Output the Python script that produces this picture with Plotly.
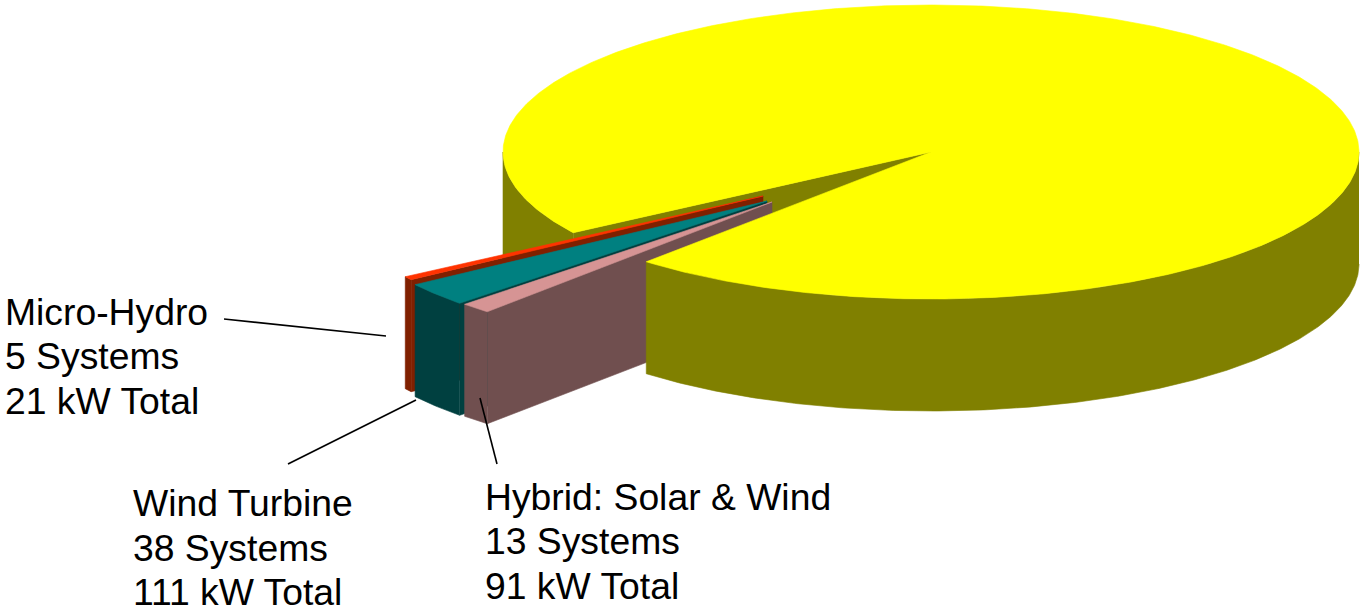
import numpy as np
import plotly.graph_objects as go

# Slice sizes, in degrees of the full pie
slices = ["Hybrid: Solar & Wind", "Wind Turbine", "Micro-Hydro", "Solar"]
slice_degrees = [4.2, 9.4, 1.4, 345.0]

# Label text
hydro_lines = ["Micro-Hydro", "5 Systems", "21 kW Total"]
wind_lines = ["Wind Turbine", "38 Systems", "111 kW Total"]
hybrid_lines = ["Hybrid: Solar & Wind", "13 Systems", "91 kW Total"]

# Styles and geometry of the projected pie
top_colors = ["#D69494", "#008080", "#FF3300", "#FFFF00"]
side_colors = ["#704F4F", "#004040", "#802000", "#808000"]
CX, CY, RX, RY, DEPTH = 931, 152, 428, 147, 112
START = 131.7
explode_dx = [-159, -164, -168, 0]
explode_dy = [50, 49, 44, 0]


def pt(t, ox, oy, drop=0):
    r = np.radians(t)
    return CX + ox + RX * np.cos(r), CY + oy + RY * np.sin(r) + drop


def arc(a, b, ox, oy, drop=0):
    n = max(2, int(abs(b - a) * 2))
    ts = np.linspace(a, b, n)
    return zip(*[pt(t, ox, oy, drop) for t in ts])


def poly(fig, xs, ys, color, name):
    fig.add_trace(go.Scatter(
        x=list(xs), y=list(ys), mode="lines", fill="toself", fillcolor=color,
        line=dict(color=color, width=0.6), name=name, hoverinfo="name",
        showlegend=False))


def side_radial(fig, t, ox, oy, color, name):
    ax, ay = CX + ox, CY + oy
    rx, ry = pt(t, ox, oy)
    poly(fig, [ax, rx, rx, ax, ax], [ay, ry, ry + DEPTH, ay + DEPTH, ay], color, name)


def side_outer(fig, a, b, ox, oy, color, name):
    x1, y1 = arc(a, b, ox, oy)
    x2, y2 = arc(b, a, ox, oy, DEPTH)
    poly(fig, list(x1) + list(x2), list(y1) + list(y2), color, name)


def top(fig, a, b, ox, oy, color, name):
    x1, y1 = arc(a, b, ox, oy)
    poly(fig, [CX + ox] + list(x1) + [CX + ox], [CY + oy] + list(y1) + [CY + oy], color, name)


fig = go.Figure()

edges = np.cumsum([START] + slice_degrees)
sol_start = edges[3]            # far edge of the notch in the solar slice
sol_end = edges[4]              # near edge of the notch
sol = 3

# Solar: back parts behind the exploded slices
side_outer(fig, sol_start, 180, 0, 0, side_colors[sol], slices[sol])
side_radial(fig, sol_start, 0, 0, side_colors[sol], slices[sol])

# Exploded slices, far to near
for i in [2, 1, 0]:
    a, b = edges[i], edges[i + 1]
    ox, oy = explode_dx[i], explode_dy[i]
    side_radial(fig, a, ox, oy, side_colors[i], slices[i])
    side_outer(fig, a, b, ox, oy, side_colors[i], slices[i])
    top(fig, a, b, ox, oy, top_colors[i], slices[i])

# Solar: front wall and top
side_outer(fig, 0, START, 0, 0, side_colors[sol], slices[sol])
top(fig, sol_start, sol_end, 0, 0, top_colors[sol], slices[sol])

# Leader lines
leaders = [((224, 319), (386, 336)), ((416, 400), (288, 464)), ((480, 398), (497, 464))]
shapes = [dict(type="line", xref="x", yref="y", x0=p[0], y0=p[1], x1=q[0], y1=q[1],
               line=dict(color="#000000", width=1.6)) for p, q in leaders]

# Labels
annotations = []
for lines, x, ys in [(hydro_lines, 5, [312, 356, 401]),
                     (wind_lines, 133, [503, 548, 592]),
                     (hybrid_lines, 485, [497, 541, 586])]:
    for text, y in zip(lines, ys):
        annotations.append(dict(
            x=x, y=y, xref="x", yref="y", text=text, showarrow=False,
            xanchor="left", yanchor="middle", xshift=-2,
            font=dict(family="Liberation Sans", size=37.3, color="#000000")))

fig.update_layout(
    width=1364, height=613, margin=dict(l=0, r=0, t=0, b=0),
    paper_bgcolor="#FFFFFF", plot_bgcolor="#FFFFFF",
    xaxis=dict(range=[0, 1364], visible=False, fixedrange=True),
    yaxis=dict(range=[613, 0], visible=False, fixedrange=True),
    shapes=shapes, annotations=annotations, showlegend=False)

fig.write_html("out.html", config={"displayModeBar": False},
               post_script="document.body.style.margin='0';document.documentElement.style.overflow='hidden';")
